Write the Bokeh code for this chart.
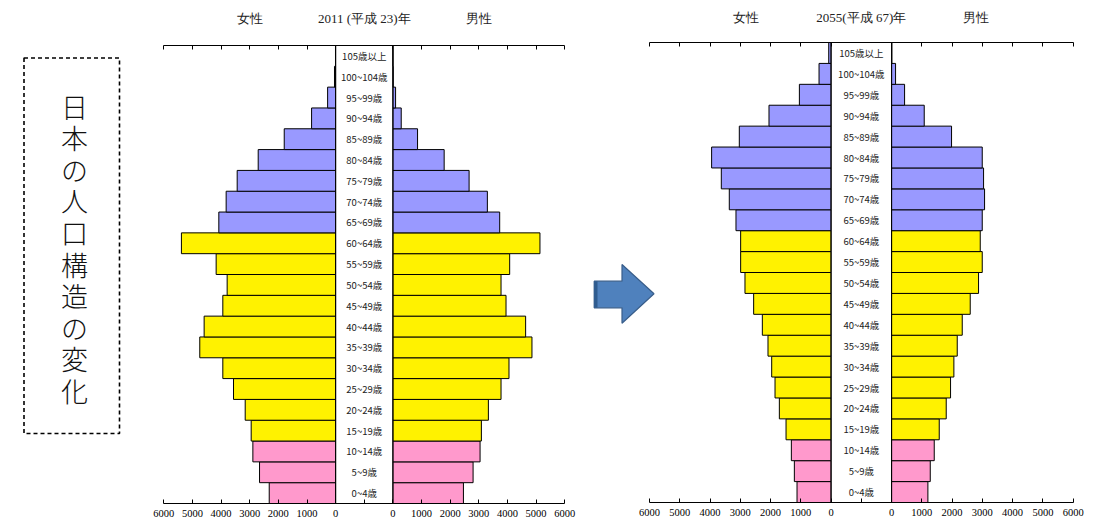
from bokeh.plotting import figure
from bokeh.layouts import row, column
from bokeh.models import Range1d, LinearAxis, FixedTicker, Span, ColumnDataSource
from bokeh.core.properties import value
from bokeh.embed import file_html
from bokeh.resources import INLINE

# Population by five-year age group, thousands of people (bottom row first)
age_groups = ["0~4歳", "5~9歳", "10~14歳", "15~19歳", "20~24歳", "25~29歳",
              "30~34歳", "35~39歳", "40~44歳", "45~49歳", "50~54歳", "55~59歳",
              "60~64歳", "65~69歳", "70~74歳", "75~79歳", "80~84歳", "85~89歳",
              "90~94歳", "95~99歳", "100~104歳", "105歳以上"]
female_2011 = [2319, 2657, 2890, 2949, 3158, 3566, 3939, 4744, 4592, 3939, 3788,
               4172, 5385, 4079, 3823, 3438, 2704, 1795, 840, 280, 40, 5]
male_2011 = [2462, 2799, 3043, 3089, 3333, 3775, 4053, 4855, 4634, 3949, 3775,
             4077, 5134, 3728, 3298, 2660, 1789, 860, 290, 93, 10, 1]
female_2055 = [1125, 1213, 1312, 1488, 1709, 1852, 1962, 2084, 2271, 2558, 2845,
               2988, 2988, 3142, 3363, 3627, 3947, 3032, 2051, 1047, 397, 77]
male_2055 = [1200, 1278, 1410, 1575, 1806, 1949, 2059, 2170, 2335, 2599, 2874,
             2996, 2930, 2996, 3073, 3040, 2996, 1982, 1079, 430, 132, 10]
axis_values = [6000, 5000, 4000, 3000, 2000, 1000, 0]
heading_2011 = "2011 (平成 23)年"
heading_2055 = "2055(平成 67)年"
heading_female = "女性"
heading_male = "男性"
side_title = "日本の人口構造の変化"

PINK, YELLOW, BLUE = "#FF99CC", "#FFF200", "#9999FF"
GAP = 1000  # half-width of the centre label strip, in axis units
SERIF = "Liberation Serif"
GOTHIC = "Noto Sans CJK JP"
H = 526
HEAD_H = 30  # height of the heading strip above each pyramid


def band_colour(i):
    if i < 3:
        return PINK
    if i < 13:
        return YELLOW
    return BLUE


def blank_figure(**kw):
    p = figure(output_backend="svg", toolbar_location=None,
               x_axis_location=None, y_axis_location=None,
               min_border_left=0, min_border_right=0, **kw)
    p.grid.grid_line_color = None
    p.outline_line_color = None
    p.background_fill_color = "white"
    p.border_fill_color = "white"
    return p


def make_pyramid(female, male, heading, width, zero_px, px_per_1000, top, bottom,
                 head_x, head_py):
    k = 1000.0 / px_per_1000
    x0 = -(6000 + GAP) - zero_px * k
    xr = Range1d(x0, x0 + width * k)

    # heading strip: 女性 / year / 男性
    hd = blank_figure(width=width, height=HEAD_H, x_range=xr,
                      y_range=Range1d(0, HEAD_H), min_border_top=0,
                      min_border_bottom=0)
    hd.text(x=[-head_x, 0, head_x], y=[HEAD_H - head_py] * 3,
            text=[heading_female, heading, heading_male], text_align="center",
            text_baseline="middle", text_font=value(SERIF),
            text_font_size="13px", text_color="#222222")

    p = blank_figure(width=width, height=H - HEAD_H, x_range=xr,
                     y_range=Range1d(0, len(age_groups)),
                     min_border_top=top - HEAD_H, min_border_bottom=bottom)

    ys = [i + 0.5 for i in range(len(age_groups))]
    colours = [band_colour(i) for i in range(len(age_groups))]
    src = ColumnDataSource(dict(
        y=ys, colour=colours, label=age_groups,
        f_left=[-GAP - v for v in female], f_right=[-GAP] * len(female),
        m_left=[GAP] * len(male), m_right=[GAP + v for v in male]))
    p.hbar(y="y", left="f_left", right="f_right", height=1.0, source=src,
           fill_color="colour", line_color="black", line_width=1)
    p.hbar(y="y", left="m_left", right="m_right", height=1.0, source=src,
           fill_color="colour", line_color="black", line_width=1)
    p.text(x=0, y="y", text="label", source=src, text_align="center",
           text_baseline="middle", text_font=value(GOTHIC),
           text_font_size="9.5px", text_color="#222222")

    for loc in (-GAP, GAP):
        p.add_layout(Span(location=loc, dimension="height",
                          line_color="black", line_width=1))

    lim = 6000 + GAP
    ticks_f = [-(GAP + v) for v in axis_values]
    ticks_m = [GAP + v for v in reversed(axis_values)]
    overrides = {t: str(v) for t, v in zip(ticks_f, axis_values)}
    overrides.update({t: str(v) for t, v in zip(ticks_m, reversed(axis_values))})

    below = LinearAxis(ticker=FixedTicker(ticks=ticks_f + [0] + ticks_m),
                       major_label_overrides={**overrides, 0: ""},
                       bounds=(-lim, lim))
    above = LinearAxis(ticker=FixedTicker(ticks=ticks_f + ticks_m),
                       bounds=(-lim, lim))
    for ax in (below, above):
        ax.axis_line_color = "black"
        ax.axis_line_width = 1
        ax.major_tick_in = 4
        ax.major_tick_out = 0
        ax.major_tick_line_color = "black"
        ax.minor_tick_line_color = None
        ax.major_label_text_font = SERIF
        ax.major_label_text_font_size = "10.5px"
        ax.major_label_text_color = "black"
        ax.major_label_standoff = 6
    above.major_label_text_color = None
    above.major_label_text_font_size = "0px"
    above.major_label_standoff = 0
    p.add_layout(below, "below")
    p.add_layout(above, "above")
    return hd, p, x0, k


# 2011 pyramid, with the side title box in its left margin
hd1, p1, x0_1, k1 = make_pyramid(female_2011, male_2011, heading_2011, width=590,
                                 zero_px=163.3, px_per_1000=28.64, top=45,
                                 bottom=23, head_x=4000, head_py=18)
row_px1 = (H - 45 - 23) / len(age_groups)


def to_x1(px):
    return x0_1 + px * k1


def to_y1(py):
    return (H - 23 - py) / row_px1


p1.quad(left=[to_x1(23.5)], right=[to_x1(119)], top=[to_y1(57.5)],
        bottom=[to_y1(433)], fill_color=None, line_color="black",
        line_width=1.6, line_dash="4 3")
chars = list(side_title)
p1.text(x=[to_x1(74)] * len(chars),
        y=[to_y1(105.5 + 31.6 * i) for i in range(len(chars))],
        text=chars, text_align="center", text_baseline="middle",
        text_font=value("Noto Sans CJK JP Light, Noto Sans CJK JP"),
        text_font_size="27px", text_color="#111111")

# 2055 pyramid, with the arrow in its left margin
hd2, p2, x0_2, k2 = make_pyramid(female_2055, male_2055, heading_2055, width=513,
                                 zero_px=59, px_per_1000=30.26, top=42,
                                 bottom=24, head_x=3800, head_py=17.3)
row_px2 = (H - 42 - 24) / len(age_groups)


def to_x2(px):
    return x0_2 + (px - 590) * k2


def to_y2(py):
    return (H - 24 - py) / row_px2


arrow_x = [593.7, 621.5, 621.5, 653.5, 621.5, 621.5, 593.7]
arrow_y = [280.7, 280.7, 264.0, 293.3, 322.7, 307.3, 307.3]
p2.patch(x=[to_x2(v) for v in arrow_x], y=[to_y2(v) for v in arrow_y],
         fill_color="#4F81BD", line_color="#385D8A", line_width=1.2)
# darker left end of the arrow shaft
p2.quad(left=[to_x2(593.7)], right=[to_x2(597)], top=[to_y2(280.7)],
        bottom=[to_y2(307.3)], fill_color="#2F5C8F", line_color=None)

layout = row(column(hd1, p1), column(hd2, p2))
open("out.html", "w").write(file_html(layout, INLINE))
